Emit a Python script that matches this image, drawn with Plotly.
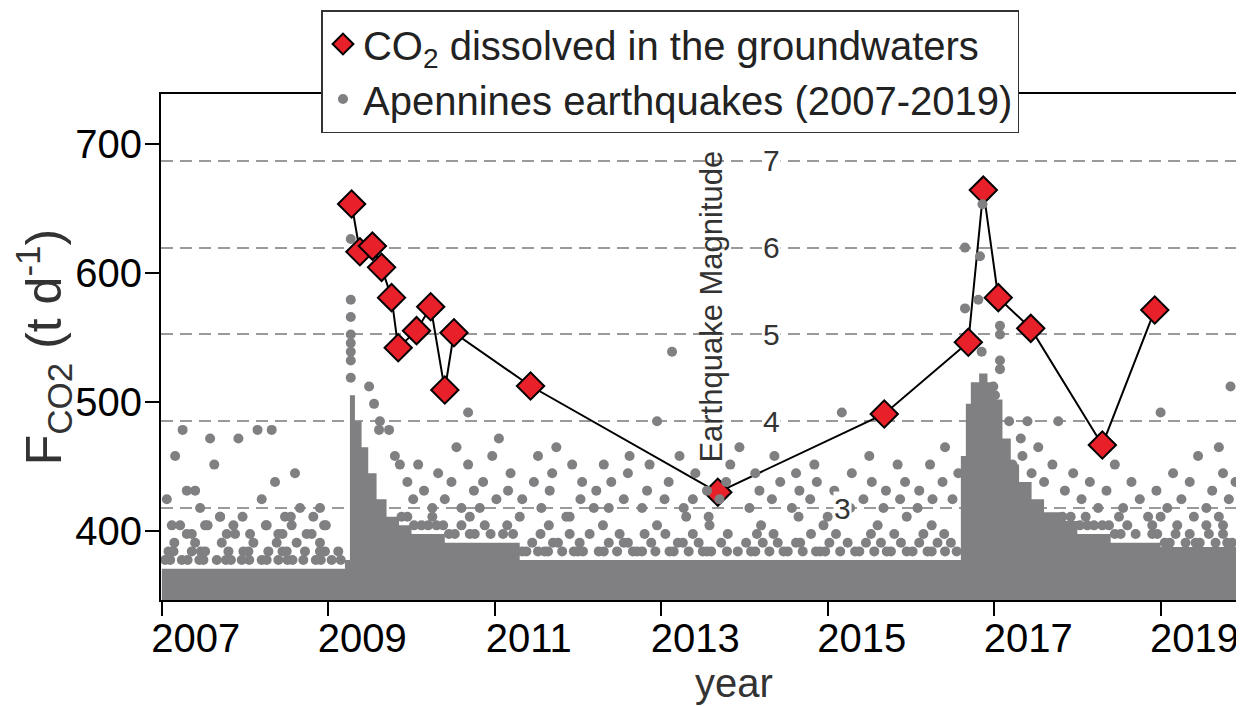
import plotly.graph_objects as go

# ---------------- data ----------------
# CO2 dissolved in groundwater (decimal year, t/d)
co2_year = [2009.28, 2009.38, 2009.53, 2009.64, 2009.76, 2009.84, 2010.06, 2010.23, 2010.40, 2010.51,
            2011.43, 2013.68, 2015.68, 2016.69, 2016.87, 2017.05, 2017.44, 2018.30, 2018.93]
co2_flux = [653.5, 616.5, 620.9, 604.4, 580.9, 542.1, 555.3, 573.9, 509.3, 553.7,
            512.4, 430.0, 490.7, 546.3, 664.3, 580.9, 557.1, 466.7, 571.3]

# upper limit of the solid (saturated) part of the earthquake cloud (step start year, magnitude)
band_year = [2007.0, 2009.2, 2009.26, 2009.32, 2009.40, 2009.48, 2009.58, 2009.70, 2009.85, 2010.0,
             2010.4, 2011.3, 2016.6, 2016.66, 2016.72, 2016.82, 2016.92, 2017.0, 2017.1, 2017.2,
             2017.3, 2017.45, 2017.6, 2017.8, 2018.0, 2018.4, 2019.0, 2019.93]
band_top = [2.3, 2.4, 4.3, 4.0, 3.7, 3.4, 3.1, 2.9, 2.8, 2.7,
            2.6, 2.4, 3.6, 4.2, 4.45, 4.55, 4.45, 4.25, 3.8, 3.5,
            3.3, 3.1, 2.95, 2.85, 2.7, 2.6, 2.55, 2.55]

# earthquakes on the fringe of the dense cloud, one list of years per magnitude row
q24 = [2007.04, 2007.10, 2007.24, 2007.31, 2007.45, 2007.50, 2007.66, 2007.77, 2007.83, 2007.96,
       2008.05, 2008.20, 2008.26, 2008.40, 2008.51, 2008.57, 2008.70, 2008.85, 2008.91, 2009.04,
       2009.15]
q25 = [2007.08, 2007.14, 2007.36, 2007.47, 2007.52, 2007.80, 2007.98, 2008.04, 2008.28, 2008.45,
       2008.50, 2008.72, 2008.90, 2008.96, 2009.12,
       2011.33, 2011.38, 2011.52, 2011.60, 2011.64, 2011.81, 2011.95, 2012.00, 2012.06, 2012.25,
       2012.31, 2012.47, 2012.66, 2012.71, 2012.77, 2012.93, 2013.10, 2013.15, 2013.33, 2013.50,
       2013.55, 2013.60, 2013.79, 2013.92, 2014.08, 2014.13, 2014.30, 2014.47, 2014.52, 2014.70,
       2014.86, 2014.91, 2014.97, 2015.15, 2015.33, 2015.38, 2015.56, 2015.71, 2015.76, 2015.95,
       2016.02, 2016.20, 2016.25, 2016.41, 2016.55]
q26 = [2007.15, 2007.40, 2007.72, 2008.10, 2008.38, 2008.62, 2008.90,
       2011.45, 2011.70, 2011.76, 2012.02, 2012.37, 2012.55, 2012.60, 2012.88, 2013.20, 2013.26,
       2013.45, 2013.72, 2014.02, 2014.22, 2014.40, 2014.62, 2014.67, 2015.02, 2015.24, 2015.46,
       2015.64, 2015.88, 2016.10, 2016.32, 2016.48,
       2019.05, 2019.11, 2019.30, 2019.42, 2019.47, 2019.66, 2019.80, 2019.86]
q27 = [2007.30, 2007.88, 2008.45, 2008.80,
       2010.45, 2010.52, 2010.70, 2010.76, 2010.95, 2011.10, 2011.22,
       2011.55, 2011.90, 2012.14, 2012.50, 2012.80, 2013.05, 2013.38, 2013.80, 2014.15, 2014.35,
       2014.80, 2015.10, 2015.52, 2015.80, 2016.15, 2016.40,
       2018.45, 2018.52, 2018.70, 2018.90, 2018.96, 2019.18, 2019.35, 2019.58, 2019.75]
q28 = [2007.55, 2008.25, 2008.95,
       2010.03, 2010.12, 2010.20, 2010.30, 2010.38, 2010.60, 2010.88, 2011.15,
       2011.65, 2012.30, 2012.95, 2013.58, 2014.20, 2014.95, 2015.60, 2016.25,
       2018.03, 2018.12, 2018.20, 2018.30, 2018.38, 2018.60, 2018.90, 2019.20, 2019.55, 2019.75]
q29 = [2007.70, 2008.55,
       2009.88, 2009.95, 2010.25, 2010.70,
       2011.90, 2013.30, 2014.65, 2015.95,
       2017.82, 2017.92, 2018.10, 2018.50, 2019.00, 2019.40, 2019.70]
row_mag = [2.4, 2.5, 2.6, 2.7, 2.8, 2.9]

# individual larger earthquakes
quake_year = [2007.06, 2007.16, 2007.25, 2007.12, 2007.30, 2007.40, 2007.46, 2007.22, 2007.36, 2007.52,
              2007.58, 2007.63, 2007.70, 2007.78, 2007.86, 2007.92, 2007.97, 2008.06, 2008.15, 2008.32,
              2008.20, 2008.26, 2008.40, 2008.48, 2008.56, 2008.66, 2008.74, 2008.82, 2008.90, 2008.97,
              2008.36, 2008.60, 2009.27, 2009.27, 2009.27, 2009.27, 2009.27, 2009.27, 2009.27, 2009.27,
              2009.49, 2009.55, 2009.62, 2009.61, 2009.73, 2009.80, 2009.86, 2009.95, 2010.02, 2010.08,
              2010.15, 2010.25, 2010.32, 2010.40, 2010.48, 2010.54, 2010.60, 2010.68, 2010.68, 2010.75,
              2010.82, 2010.86, 2010.97, 2011.02, 2011.05, 2011.16, 2011.19, 2011.30, 2011.33, 2011.47,
              2011.52, 2011.56, 2011.66, 2011.69, 2011.74, 2011.86, 2011.93, 2012.03, 2012.05, 2012.19,
              2012.22, 2012.31, 2012.37, 2012.40, 2012.55, 2012.60, 2012.62, 2012.77, 2012.83, 2012.86,
              2012.95, 2013.04, 2013.13, 2013.09, 2013.22, 2013.27, 2013.38, 2013.41, 2013.55, 2013.57,
              2013.70, 2013.78, 2013.83, 2013.94, 2014.06, 2014.13, 2014.18, 2014.33, 2014.36, 2014.43,
              2014.57, 2014.62, 2014.66, 2014.79, 2014.84, 2014.87, 2015.00, 2015.08, 2015.17, 2015.27,
              2015.29, 2015.43, 2015.50, 2015.53, 2015.67, 2015.70, 2015.84, 2015.87, 2015.93, 2016.08,
              2016.10, 2016.23, 2016.26, 2016.38, 2016.41, 2016.50, 2016.57, 2016.65, 2016.83, 2016.86,
              2016.65, 2016.81, 2017.07, 2017.07, 2016.85, 2017.07, 2017.07, 2016.99, 2017.01, 2017.18,
              2017.40, 2017.77, 2017.32, 2017.53, 2017.34, 2017.22, 2017.45, 2017.60, 2017.70, 2017.85,
              2017.95, 2018.05, 2018.15, 2018.25, 2018.35, 2018.45, 2018.55, 2018.65, 2018.75, 2018.85,
              2018.95, 2019.00, 2019.08, 2019.15, 2019.25, 2019.35, 2019.45, 2019.55, 2019.62, 2019.70,
              2019.75, 2019.82, 2019.84, 2019.90]
quake_mag = [3.1, 3.6, 3.9, 2.8, 3.2, 3.2, 3.0, 2.8, 2.7, 2.8,
             3.8, 3.5, 2.9, 2.7, 2.8, 3.8, 2.9, 2.7, 3.9, 3.9,
             3.1, 2.8, 2.7, 2.9, 2.8, 3.0, 2.7, 2.9, 3.0, 2.8,
             3.3, 3.4, 6.1, 5.4, 5.2, 5.0, 4.9, 4.8, 4.7, 4.5,
             4.4, 4.2, 4.0, 3.9, 3.9, 3.6, 3.5, 3.3, 3.1, 3.5,
             3.2, 3.0, 3.4, 3.1, 3.3, 3.7, 3.0, 4.1, 3.5, 3.2,
             3.0, 3.3, 3.6, 3.1, 3.8, 3.2, 3.4, 2.9, 3.1, 3.3,
             3.6, 3.0, 3.2, 3.4, 3.7, 2.9, 3.5, 3.1, 3.3, 3.0,
             3.2, 3.5, 3.0, 3.3, 3.1, 3.4, 3.6, 3.0, 3.2, 3.5,
             4.0, 3.1, 4.8, 3.3, 3.6, 3.0, 3.1, 3.4, 3.2, 2.9,
             3.1, 3.3, 3.5, 3.7, 3.0, 3.4, 3.2, 3.1, 3.6, 3.3,
             3.0, 3.4, 3.2, 3.1, 3.5, 3.3, 2.9, 3.2, 4.1, 3.0,
             3.4, 3.1, 3.6, 3.3, 3.0, 3.2, 3.5, 3.1, 3.3, 3.0,
             3.2, 3.5, 3.1, 3.3, 3.7, 3.1, 3.4, 6.0, 5.9, 6.5,
             5.3, 5.4, 5.1, 5.0, 4.8, 4.7, 4.6, 4.4, 4.3, 4.0,
             4.0, 4.0, 3.8, 3.7, 3.6, 3.5, 3.4, 3.3, 3.5, 3.2,
             3.4, 3.1, 3.3, 3.0, 3.2, 3.5, 3.0, 3.3, 3.1, 2.9,
             3.2, 4.1, 3.0, 3.4, 3.1, 3.3, 3.6, 3.0, 3.2, 3.7,
             3.4, 3.1, 4.4, 3.3]

year_ticks = [2007, 2009, 2011, 2013, 2015, 2017, 2019]
flux_ticks = [400, 500, 600, 700]
mag_ticks = [3, 4, 5, 6, 7]

# ---------------- style ----------------
GRAY = "#808083"
RED = "#e8202a"
FONT = "Liberation Sans, Arial, Helvetica, sans-serif"

# assemble all plotted earthquakes
eq_x, eq_y = [], []
for yrs, m in zip([q24, q25, q26, q27, q28, q29], row_mag):
    eq_x += yrs
    eq_y += [m] * len(yrs)
eq_x += quake_year
eq_y += quake_mag

fig = go.Figure()

# saturated part of the earthquake cloud
fig.add_trace(go.Scatter(
    x=band_year, y=band_top, yaxis="y2", mode="lines", line=dict(width=0, shape="hv"),
    fill="tozeroy", fillcolor=GRAY, showlegend=False, hoverinfo="skip"))

# individual earthquakes
fig.add_trace(go.Scatter(
    x=eq_x, y=eq_y, yaxis="y2", mode="markers",
    marker=dict(size=10, color=GRAY, line=dict(width=0)),
    name="Apennines earthquakes (2007-2019)", legendgroup="eq", legendrank=2))

# CO2 line
fig.add_trace(go.Scatter(
    x=co2_year, y=co2_flux, mode="lines", line=dict(color="black", width=2),
    showlegend=False, hoverinfo="skip"))

# CO2 markers
fig.add_trace(go.Scatter(
    x=co2_year, y=co2_flux, mode="markers",
    marker=dict(symbol="diamond", size=21, color=RED, line=dict(color="black", width=2)),
    name="CO<sub>2</sub> dissolved in the groundwaters", legendgroup="co2", legendrank=1))

# magnitude labels (placed inside the plot)
label_x = {3: 2015.18, 4: 2014.33, 5: 2014.33, 6: 2014.33, 7: 2014.33}
for m in mag_ticks:
    fig.add_annotation(x=label_x[m], y=m, xref="x", yref="y2", text=str(m), showarrow=False,
                       font=dict(size=30, color="#333", family=FONT), bgcolor="white", borderpad=0)

fig.add_annotation(x=2013.61, y=5.32, xref="x", yref="y2", text="Earthquake Magnitude",
                   textangle=-90, showarrow=False, font=dict(size=31, color="#333", family=FONT))

fig.add_annotation(x=0.532, y=-0.164, xref="paper", yref="paper", text="year", showarrow=False,
                   yanchor="middle", font=dict(size=40, color="#333", family=FONT))

# the page adds an 8 px body margin, so the figure is 8 px smaller and margins shifted by 8 px
fig.update_layout(
    width=1236, height=698,
    margin=dict(l=153, r=6, t=86, b=106, autoexpand=False),
    paper_bgcolor="white", plot_bgcolor="white",
    font=dict(family=FONT, color="#111"),
    legend=dict(x=0.149, y=1.166, xanchor="left", yanchor="top", bgcolor="white",
                bordercolor="#333", borderwidth=1.5, tracegroupgap=0,
                font=dict(size=40, color="#222", family=FONT)),
    xaxis=dict(range=[2006.99, 2019.93], tickmode="array", tickvals=year_ticks,
               ticktext=[str(v) for v in year_ticks], ticks="outside", ticklen=14, tickwidth=2,
               tickcolor="black", showline=True, linewidth=2, linecolor="black", mirror=True,
               showgrid=False, zeroline=False, ticklabelshift=34, ticklabelstandoff=-12,
               tickfont=dict(size=40, color="black", family=FONT)),
    yaxis=dict(range=[346.5, 738.8], tickmode="array", tickvals=flux_ticks, ticks="outside",
               ticklen=14, tickwidth=2, tickcolor="black", showline=True, linewidth=2,
               linecolor="black", mirror=True, showgrid=False, zeroline=False,
               ticklabelstandoff=-5,
               tickfont=dict(size=40, color="black", family=FONT),
               title=dict(text="F<sub>CO2</sub> (t d<sup>-1</sup>)", standoff=12,
                          font=dict(size=50, color="#333", family=FONT))),
    yaxis2=dict(overlaying="y", side="right", range=[1.94, 7.77], tickmode="array",
                tickvals=mag_ticks, showticklabels=False, ticks="", showline=False,
                zeroline=False, showgrid=True, gridcolor="#9a9a9a", gridwidth=1.5,
                griddash="12px,7px"),
)

fig.write_html("out.html")
